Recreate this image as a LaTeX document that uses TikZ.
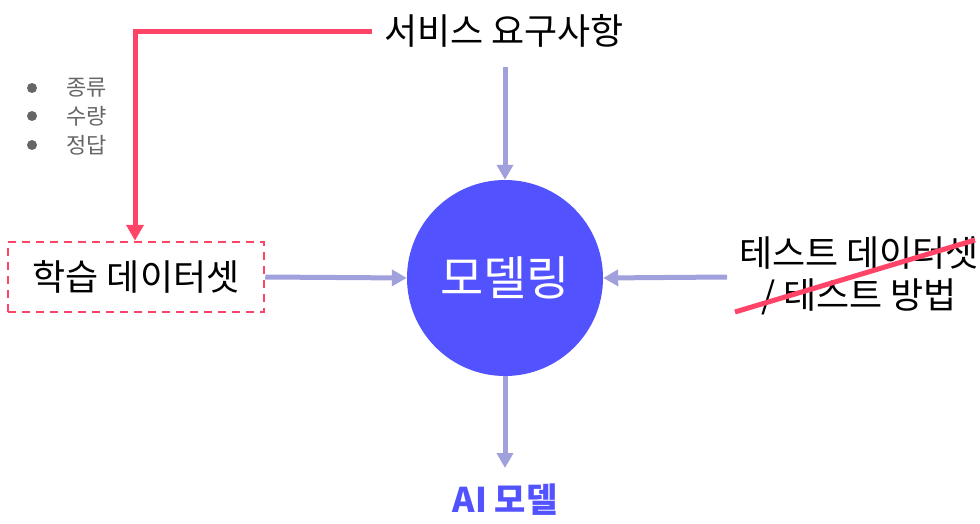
\documentclass[tikz,border=0pt]{standalone}
\usepackage{fontspec}
\setmainfont{Noto Sans CJK KR}
\usetikzlibrary{arrows.meta}
\definecolor{circ}{HTML}{5252FF}
\definecolor{flow}{HTML}{A0A0DC}
\definecolor{redl}{HTML}{FF4468}
\definecolor{bul}{HTML}{666666}
\tikzset{
  flowarrow/.style={draw=flow,line width=5pt,-{Triangle[length=15pt,width=16pt]}},
  redarrow/.style={draw=redl,line width=5pt,-{Triangle[length=16pt,width=17pt]}},
  bigtext/.style={font=\fontsize{36}{42}\selectfont,inner sep=0pt},
  smalltext/.style={font=\fontsize{22}{26}\selectfont,text=bul,inner sep=0pt,anchor=west},
}
\begin{document}
\begin{tikzpicture}[x=1pt,y=-1pt]
\useasboundingbox (0,0) rectangle (980,524);
\node[circle,fill=circ,minimum size=196pt,inner sep=0pt,text=white,font=\fontsize{47}{54}\selectfont] (model) at (505,278) {모델링};
\node[bigtext] (req) at (504,31) {서비스 요구사항};
\node[draw=redl,dash pattern=on 8pt off 6pt,line width=2.5pt,minimum width=256pt,minimum height=70pt,bigtext] (train) at (136,277) {학습 데이터셋};
\node[bigtext,align=center,font=\fontsize{36}{42}\selectfont] (test) at (859,276) {테스트 데이터셋\\/ 테스트 방법};
\node[font=\fontsize{34}{40}\selectfont\bfseries,text=circ,inner sep=0pt] (ai) at (505,500) {AI 모델};
\coordinate (redstart) at (372,32);
\coordinate (redcorner) at (135,32);
\draw[redarrow] (redstart) -- (redcorner) -- (train.north -| redcorner);
\foreach \i/\t/\y in {1/종류/88,2/수량/116,3/정답/145}{
  \node[circle,fill=bul,minimum size=10pt,inner sep=0pt] (dot\i) at (32,\y) {};
  \node[smalltext] (bt\i) at (66,\y) {\t};
}
\coordinate (reqb) at (505,67);
\draw[flowarrow] (reqb) -- (model.north);
\draw[flowarrow] (train.east) -- (model.west);
\coordinate (testl) at (727,277);
\draw[flowarrow] (testl) -- (model.east);
\coordinate (aitop) at (505,468);
\draw[flowarrow] (model.south) -- (aitop);
\coordinate (s1) at (735,312);
\coordinate (s2) at (975,240);
\draw[redl,line width=5pt] (s1) -- (s2);
\end{tikzpicture}
\end{document}
